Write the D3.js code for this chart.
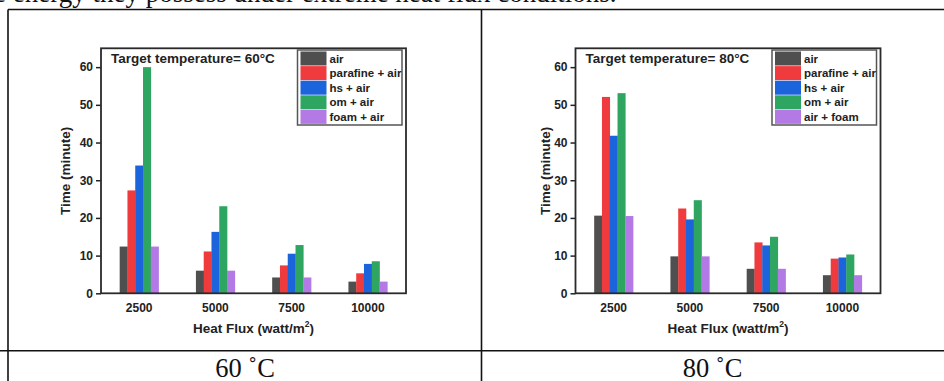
<!DOCTYPE html>
<html>
<head>
<meta charset="utf-8">
<script src="https://cdn.jsdelivr.net/npm/d3@7"></script>
<style>
  body { margin: 0; background: #fff; }
  svg { display: block; }
  .tick text { font-family: Arial, "Liberation Sans", sans-serif; font-weight: bold; font-size: 12px; fill: #222; }
</style>
</head>
<body>
<script>
// data
const categories = ["2500", "5000", "7500", "10000"];
const names60 = ["air", "parafine + air", "hs + air", "om + air", "foam + air"];
const names80 = ["air", "parafine + air", "hs + air", "om + air", "air + foam"];
const colors = ["#4f4f4f", "#ef3b3d", "#1c64dc", "#2fa562", "#b37ae5"];
const yTicks = [0, 10, 20, 30, 40, 50, 60];

// 60 C
const air60 = [12.4, 6.0, 4.2, 3.1];
const parafine60 = [27.3, 11.1, 7.4, 5.3];
const hs60 = [33.9, 16.3, 10.5, 7.8];
const om60 = [60.0, 23.1, 12.8, 8.5];
const foam60 = [12.4, 6.0, 4.2, 3.1];

// 80 C
const air80 = [20.6, 9.8, 6.5, 4.8];
const parafine80 = [52.1, 22.5, 13.5, 9.2];
const hs80 = [41.8, 19.6, 12.7, 9.5];
const om80 = [53.1, 24.7, 15.0, 10.3];
const foam80 = [20.5, 9.8, 6.5, 4.8];

const svg = d3.select("body")
  .append("svg")
  .attr("width", 944)
  .attr("height", 381);

// text line cut at the top of the page
svg.append("text")
  .attr("x", -6)
  .attr("y", 2)
  .attr("font-family", "'Times New Roman', 'Liberation Serif', serif")
  .attr("font-size", 27)
  .attr("fill", "#111")
  .text("e energy they possess under extreme heat flux conditions.");

// table lines
const lines = [
  [8, 9.5, 944, 9.5],
  [0, 350.7, 944, 350.7],
  [8, 9.5, 8, 381],
  [481.5, 9.5, 481.5, 381]
];
svg.selectAll("line.table")
  .data(lines)
  .enter()
  .append("line")
  .attr("class", "table")
  .attr("x1", d => d[0])
  .attr("y1", d => d[1])
  .attr("x2", d => d[2])
  .attr("y2", d => d[3])
  .attr("stroke", "#111")
  .attr("stroke-width", 1.6);

svg.selectAll("text.caption")
  .data([["60 \u02DAC", 245], ["80 \u02DAC", 712.5]])
  .enter()
  .append("text")
  .attr("class", "caption")
  .attr("x", d => d[1])
  .attr("y", 376.5)
  .attr("text-anchor", "middle")
  .attr("font-family", "'Times New Roman', 'Liberation Serif', serif")
  .attr("font-size", 26.5)
  .attr("fill", "#111")
  .text(d => d[0]);

function drawPanel(left, temp, names, series, yTitleX) {
  const top = 48.3, w = 305, h = 245;
  const g = svg.append("g").attr("transform", "translate(" + left + "," + top + ")");

  const x0 = d3.scaleBand()
    .domain(categories)
    .range([0, w])
    .paddingInner(0.49)
    .paddingOuter(0.245);
  const x1 = d3.scaleBand()
    .domain(d3.range(names.length))
    .range([0, x0.bandwidth()]);
  const y = d3.scaleLinear().domain([0, 65]).range([h, 0]);

  categories.forEach((c, ci) => {
    g.append("g")
      .attr("transform", "translate(" + x0(c) + ",0)")
      .selectAll("rect")
      .data(series.map((s, si) => ({ si: si, v: s[ci] })))
      .enter()
      .append("rect")
      .attr("x", d => x1(d.si))
      .attr("width", x1.bandwidth() + 0.3)
      .attr("y", d => y(d.v))
      .attr("height", d => h - y(d.v))
      .attr("fill", d => colors[d.si]);
  });

  const ya = g.append("g")
    .call(d3.axisLeft(y).tickValues(yTicks).tickSize(5).tickPadding(3));
  ya.select(".domain").remove();
  ya.selectAll(".tick line").attr("stroke", "#222").attr("stroke-width", 1.5);

  const xa = g.append("g")
    .attr("transform", "translate(0," + h + ")")
    .call(d3.axisBottom(x0).tickSize(0).tickPadding(10));
  xa.select(".domain").remove();

  // frame
  g.append("rect")
    .attr("width", w)
    .attr("height", h)
    .attr("fill", "none")
    .attr("stroke", "#2a2a2a")
    .attr("stroke-width", 1.8);

  g.append("text")
    .attr("x", 10)
    .attr("y", 14.4)
    .attr("font-family", "Arial, 'Liberation Sans', sans-serif")
    .attr("font-weight", "bold")
    .attr("font-size", 13.5)
    .attr("fill", "#222")
    .text("Target temperature= " + temp + "\u00B0C");

  // legend
  const lg = g.append("g").attr("transform", "translate(" + (w - 108.5) + ",1.7)");
  lg.append("rect")
    .attr("width", 104.5)
    .attr("height", 75)
    .attr("fill", "#fff")
    .attr("stroke", "#555")
    .attr("stroke-width", 1.5);
  const row = lg.selectAll("g.row")
    .data(names)
    .enter()
    .append("g")
    .attr("class", "row")
    .attr("transform", (d, i) => "translate(3," + (1.5 + i * 14.6) + ")");
  row.append("rect")
    .attr("width", 26)
    .attr("height", 14)
    .attr("fill", (d, i) => colors[i]);
  row.append("text")
    .attr("x", 29)
    .attr("y", 11)
    .attr("font-family", "Arial, 'Liberation Sans', sans-serif")
    .attr("font-weight", "bold")
    .attr("font-size", 11.5)
    .attr("fill", "#222")
    .text(d => d);

  // axis titles
  const xt = g.append("text")
    .attr("x", w / 2)
    .attr("y", h + 40)
    .attr("text-anchor", "middle")
    .attr("font-family", "Arial, 'Liberation Sans', sans-serif")
    .attr("font-weight", "bold")
    .attr("font-size", 13.5)
    .attr("fill", "#222");
  xt.append("tspan").text("Heat Flux (watt/m");
  xt.append("tspan").attr("font-size", 8.5).attr("dy", -6).text("2");
  xt.append("tspan").attr("dy", 6).text(")");

  g.append("text")
    .attr("transform", "translate(" + (yTitleX - left) + "," + (h / 2) + ") rotate(-90)")
    .attr("text-anchor", "middle")
    .attr("dy", "0.35em")
    .attr("font-family", "Arial, 'Liberation Sans', sans-serif")
    .attr("font-weight", "bold")
    .attr("font-size", 13.5)
    .attr("fill", "#222")
    .text("Time (minute)");
}

drawPanel(101, 60, names60, [air60, parafine60, hs60, om60, foam60], 65);
drawPanel(575.5, 80, names80, [air80, parafine80, hs80, om80, foam80], 545);
</script>
</body>
</html>
